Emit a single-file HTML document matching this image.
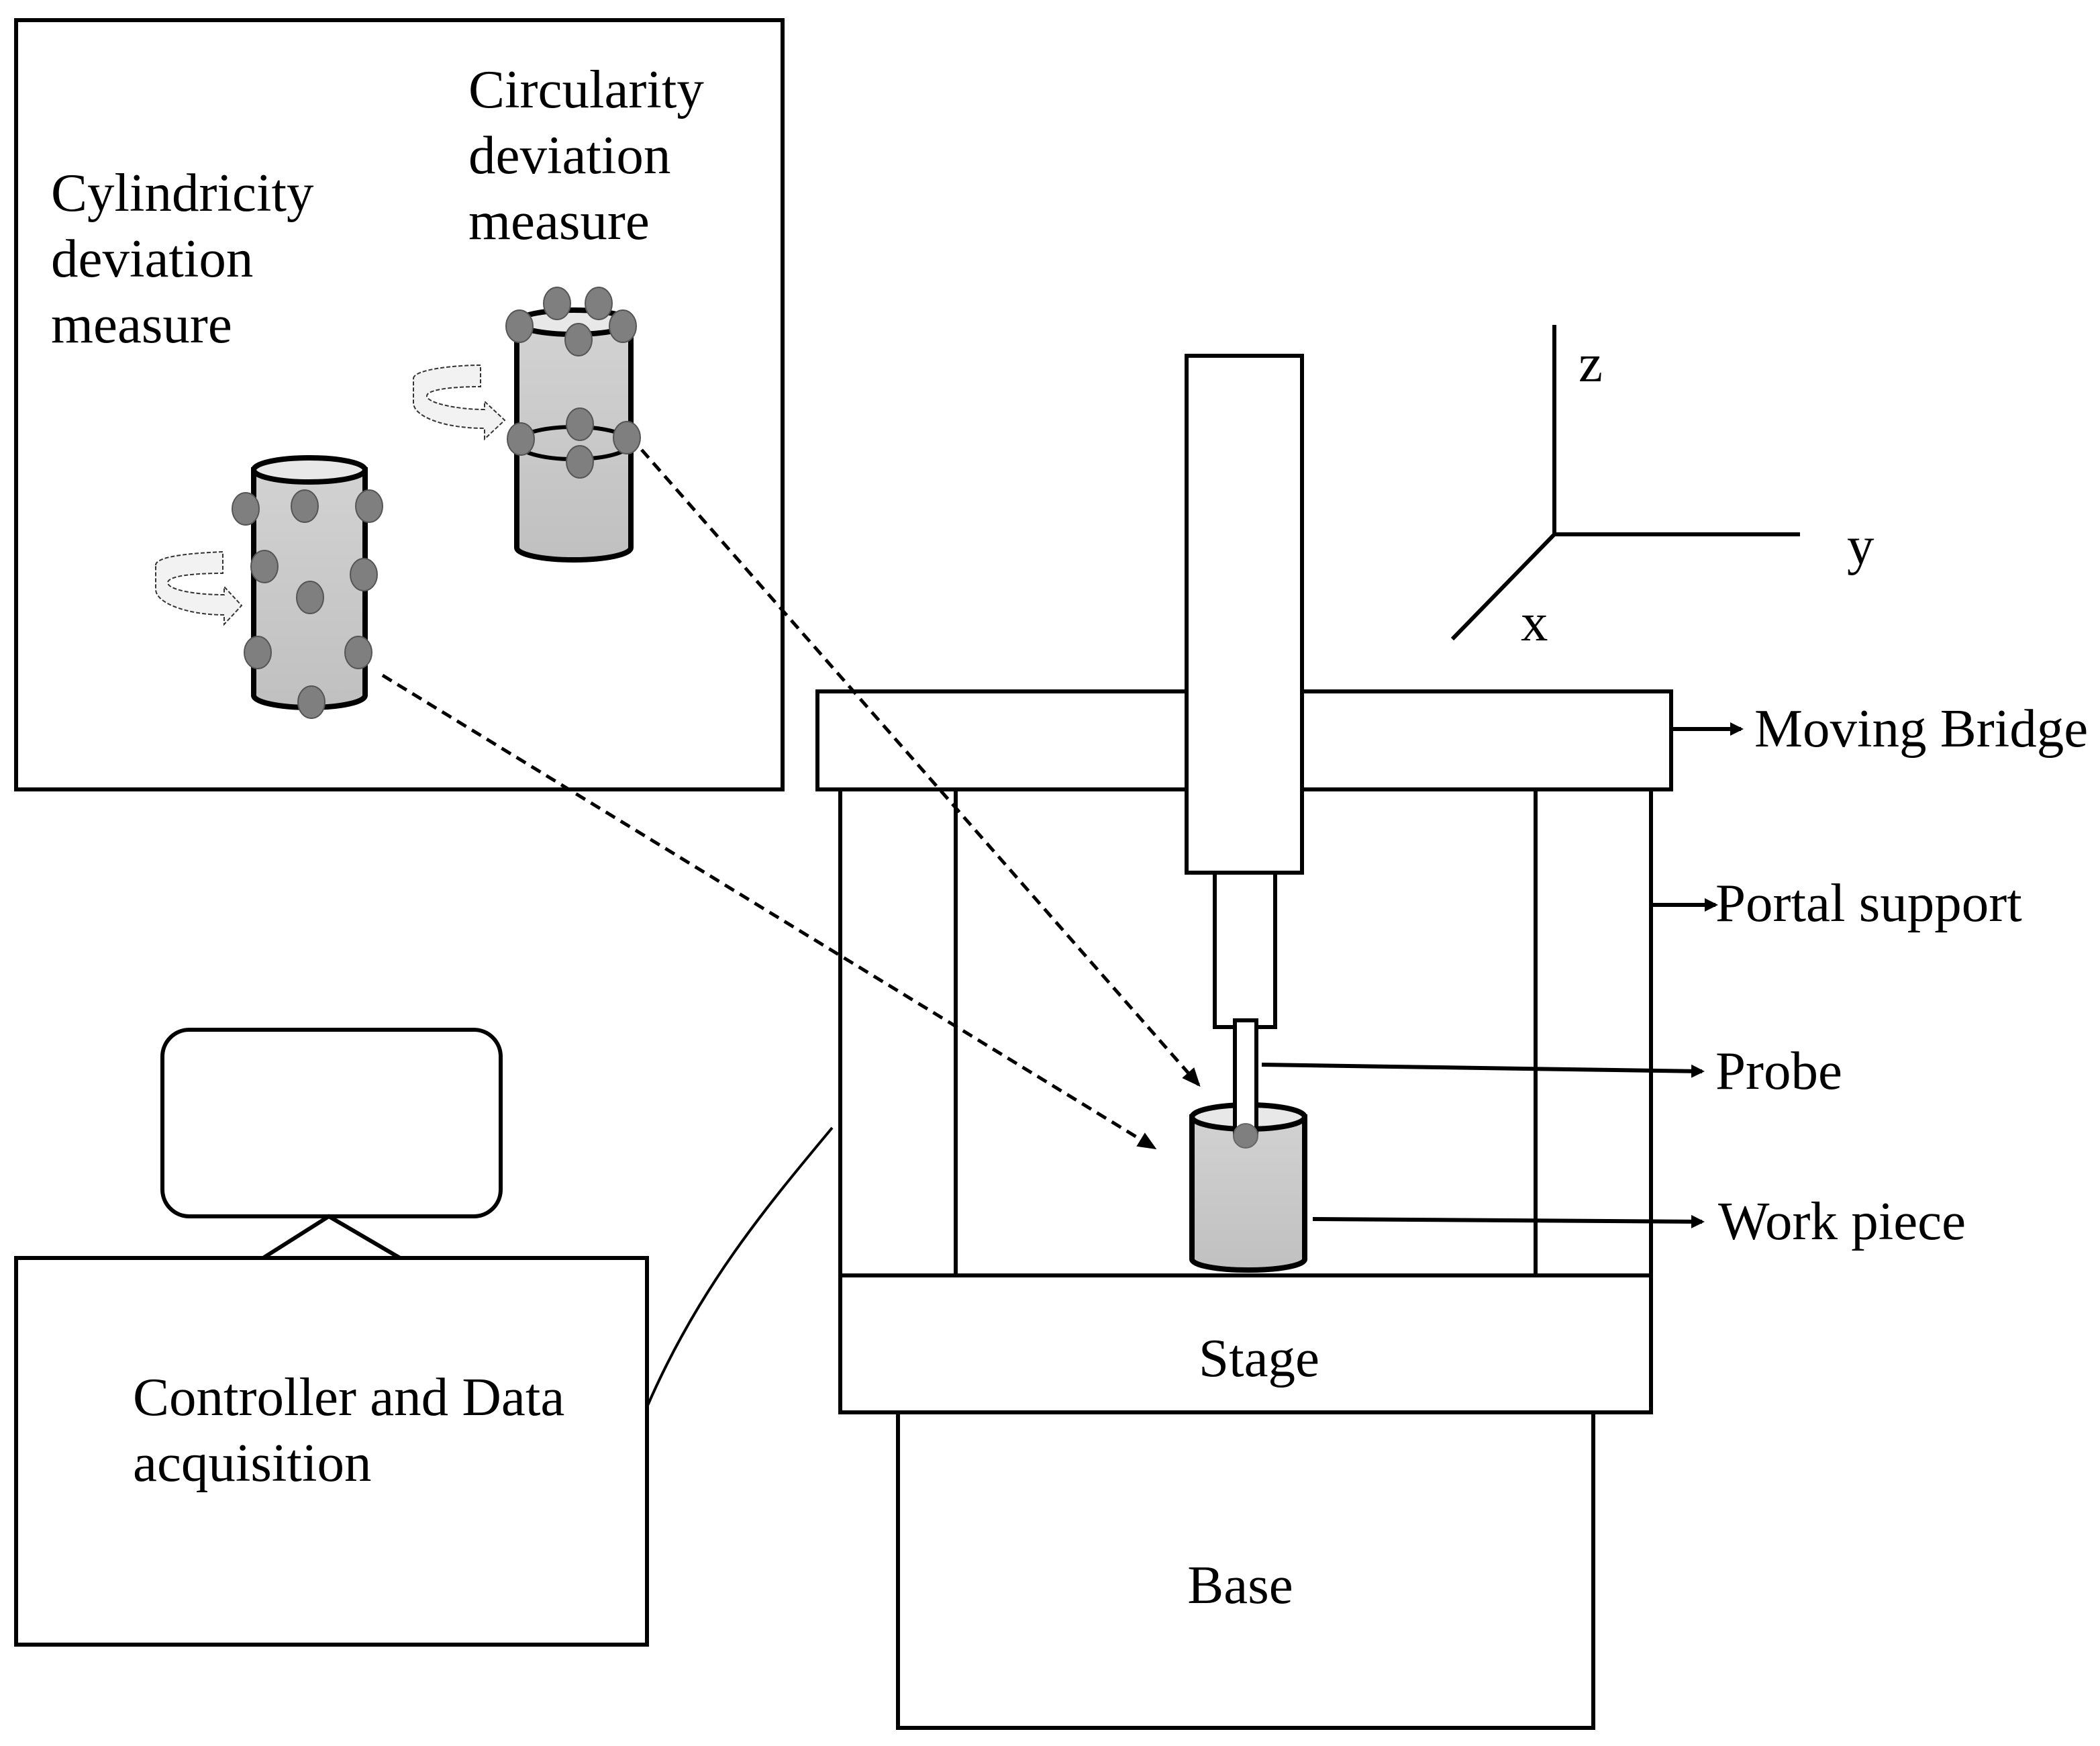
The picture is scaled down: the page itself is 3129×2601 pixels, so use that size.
<!DOCTYPE html>
<html><head><meta charset="utf-8"><style>html,body{margin:0;padding:0;background:#fff}svg{display:block}</style></head><body>
<svg width="3129" height="2601" viewBox="0 0 1564.5 1300.5" xmlns="http://www.w3.org/2000/svg" font-family="Liberation Serif, serif" font-size="40.5">
<defs>
<linearGradient id="g" x1="0" y1="0" x2="0" y2="1"><stop offset="0" stop-color="#d2d2d2"/><stop offset="1" stop-color="#c0c0c0"/></linearGradient>
<marker id="ah" markerWidth="10" markerHeight="10" refX="8" refY="5" orient="auto" markerUnits="userSpaceOnUse"><path d="M0,0 L10,5 L0,10 z" fill="#000"/></marker>
<marker id="ah2" markerWidth="14" markerHeight="12" refX="12" refY="6" orient="auto" markerUnits="userSpaceOnUse"><path d="M0,0 L14,6 L0,12 z" fill="#000"/></marker>
</defs>
<g fill="none" stroke="#000" stroke-width="3">
<rect x="12" y="15" width="571" height="573"/>
</g>
<text x="38" y="157">Cylindricity</text><text x="38" y="206">deviation</text><text x="38" y="255">measure</text>
<text x="349" y="80">Circularity</text><text x="349" y="129">deviation</text><text x="349" y="178">measure</text>

<path d="M189,350 L189,518 A41.5,9 0 0 0 272,518 L272,350 Z" fill="url(#g)" stroke="#000" stroke-width="4"/>
<ellipse cx="230.5" cy="350" rx="41.5" ry="9" fill="#e8e8e8" stroke="#000" stroke-width="4"/>
<g fill="#7f7f7f" stroke="#555" stroke-width="1">
<ellipse cx="183" cy="379" rx="10" ry="12"/><ellipse cx="227" cy="377" rx="10" ry="12"/><ellipse cx="275" cy="377" rx="10" ry="12"/>
<ellipse cx="197" cy="422" rx="10" ry="12"/><ellipse cx="231" cy="445" rx="10" ry="12"/><ellipse cx="271" cy="428" rx="10" ry="12"/>
<ellipse cx="192" cy="486" rx="10" ry="12"/><ellipse cx="267" cy="486" rx="10" ry="12"/><ellipse cx="232" cy="523" rx="10" ry="12"/>
</g>
<path d="M385,242 L385,408 A42.5,9 0 0 0 470,408 L470,242 Z" fill="url(#g)" stroke="#000" stroke-width="4"/>
<ellipse cx="427.5" cy="240" rx="42.5" ry="9" fill="#e8e8e8" stroke="#000" stroke-width="4"/>
<ellipse cx="427.5" cy="330" rx="42.5" ry="12" fill="none" stroke="#000" stroke-width="3"/>
<g fill="#7f7f7f" stroke="#555" stroke-width="1">
<ellipse cx="387" cy="243" rx="10" ry="12"/><ellipse cx="415" cy="226" rx="10" ry="12"/><ellipse cx="446" cy="226" rx="10" ry="12"/><ellipse cx="464" cy="243" rx="10" ry="12"/><ellipse cx="431" cy="253" rx="10" ry="12"/>
<ellipse cx="388" cy="327" rx="10" ry="12"/><ellipse cx="432" cy="316" rx="10" ry="12"/><ellipse cx="467" cy="326" rx="10" ry="12"/><ellipse cx="432" cy="344" rx="10" ry="12"/>
</g>
<g fill="#f2f2f2" stroke="#333" stroke-width="1" stroke-dasharray="3,1.5">
<path d="M308,282 C308,275 340,272 358,272 L358,288 C338,288 318,290 318,295 C318,300 340,305 361,305 L361,299 L376,313 L361,327 L361,319 C330,319 308,310 308,300 Z"/>
<path d="M112,432 C112,425 140,423 162,422 L162,438 C140,438 121,440 121,445 C121,450 140,454 163,454 L163,448 L176,462 L163,476 L163,469 C135,469 112,460 112,450 Z" transform="translate(4,-11)"/>
</g>

<g stroke="#000" stroke-width="3" fill="none">
<line x1="1158" y1="242" x2="1158" y2="398"/><line x1="1157" y1="398" x2="1341" y2="398"/><line x1="1158" y1="398" x2="1082" y2="476"/>
</g>
<text x="1176" y="284">z</text><text x="1376" y="420">y</text><text x="1133" y="477">x</text>

<g stroke="#000" stroke-width="3">
<rect x="609" y="515" width="636" height="73" fill="#fff"/>
<rect x="626" y="588" width="604" height="362" fill="#fff"/>
<line x1="712" y1="588" x2="712" y2="950"/><line x1="1144" y1="588" x2="1144" y2="950"/>
<rect x="626" y="950" width="604" height="102" fill="#fff"/>
<rect x="669" y="1052" width="518" height="235" fill="#fff"/>
<rect x="884" y="265" width="86" height="385" fill="#fff"/>
<rect x="905" y="650" width="45" height="115" fill="#fff"/>
</g>
<path d="M888,832 L888,938 A42,8 0 0 0 972,938 L972,832 Z" fill="url(#g)" stroke="#000" stroke-width="4"/>
<ellipse cx="930" cy="832" rx="42" ry="9" fill="#e8e8e8" stroke="#000" stroke-width="4"/>
<rect x="920" y="760" width="16" height="84" fill="#fff" stroke="#000" stroke-width="3"/>
<circle cx="928" cy="846" r="9" fill="#7f7f7f" stroke="#666" stroke-width="1"/>
<text x="938" y="1025" text-anchor="middle">Stage</text>
<text x="924" y="1194" text-anchor="middle">Base</text>

<g stroke="#000" stroke-width="3">
<line x1="1245" y1="543" x2="1297" y2="543" marker-end="url(#ah)"/>
<line x1="1230" y1="674" x2="1278" y2="674" marker-end="url(#ah)"/>
<line x1="940" y1="793" x2="1268" y2="798" marker-end="url(#ah)"/>
<line x1="978" y1="908" x2="1268" y2="910" marker-end="url(#ah)"/>
</g>
<text x="1307" y="556">Moving Bridge</text>
<text x="1278" y="686">Portal support</text>
<text x="1278" y="811">Probe</text>
<text x="1280" y="923">Work piece</text>

<g stroke="#000" stroke-width="2.5" stroke-dasharray="8,5" fill="none">
<line x1="285" y1="503" x2="860" y2="855" marker-end="url(#ah2)"/>
<line x1="478" y1="335" x2="893" y2="808" marker-end="url(#ah2)"/>
</g>

<g stroke="#000" stroke-width="3" fill="#fff">
<rect x="121" y="767" width="252" height="139" rx="20"/>
<polyline points="196,937 245,906 298,937" fill="none"/>
<rect x="12" y="937" width="470" height="288"/>
<path d="M482,1048 C520,960 570,900 620,840" fill="none" stroke-width="2"/>
</g>
<text x="99" y="1054">Controller and Data</text>
<text x="99" y="1103">acquisition</text>
</svg>
</body></html>
